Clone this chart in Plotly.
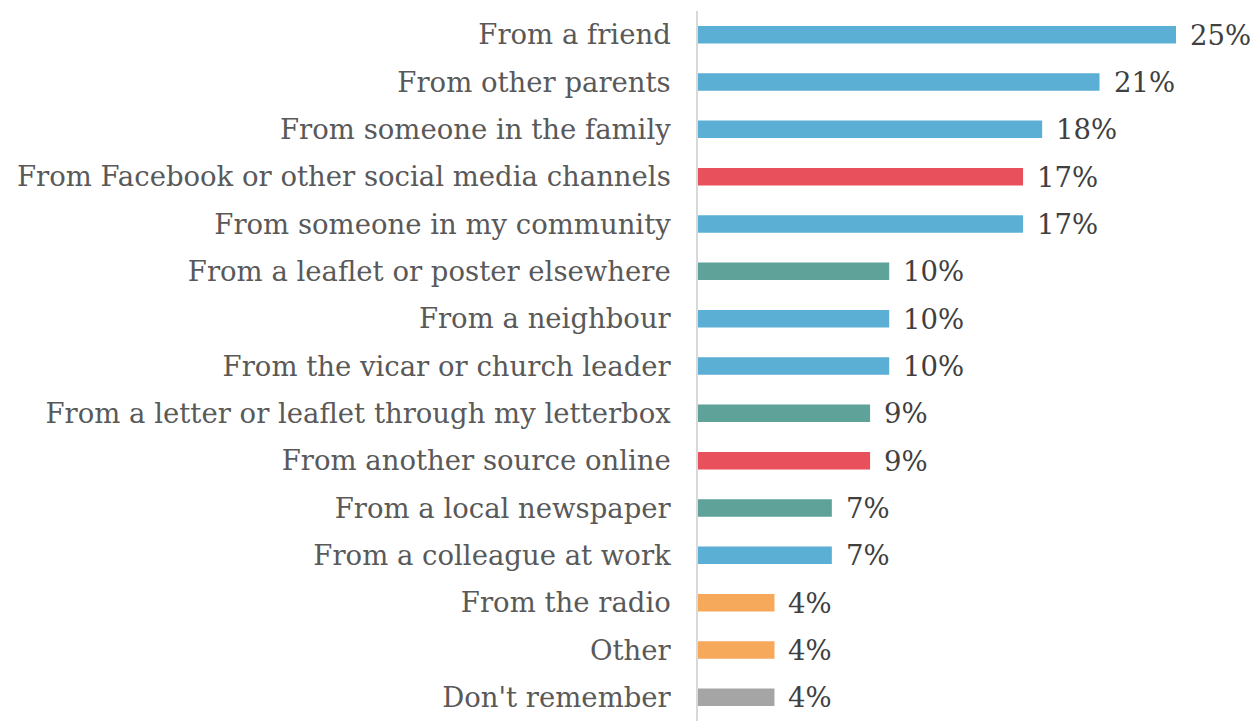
import plotly.graph_objects as go

categories = ["From a friend", "From other parents", "From someone in the family",
              "From Facebook or other social media channels", "From someone in my community",
              "From a leaflet or poster elsewhere", "From a neighbour", "From the vicar or church leader",
              "From a letter or leaflet through my letterbox", "From another source online",
              "From a local newspaper", "From a colleague at work", "From the radio", "Other",
              "Don't remember"]
values = [25, 21, 18, 17, 17, 10, 10, 10, 9, 9, 7, 7, 4, 4, 4]
groups = ["people", "people", "people", "online", "people", "print", "people", "people",
          "print", "online", "print", "people", "broadcast", "broadcast", "unknown"]
group_colors = {"people": "#5BAED4", "online": "#E8515B", "print": "#5FA29A",
                "broadcast": "#F6A95A", "unknown": "#A5A5A5"}
labels = [f"{v}%" for v in values]

FONT = "DejaVu Serif"
fig = go.Figure()
fig.add_trace(go.Bar(
    x=values, y=categories, orientation="h",
    marker=dict(color=[group_colors[g] for g in groups], line=dict(width=0)),
    hoverinfo="skip",
))
for c, v, t in zip(categories, values, labels):
    fig.add_annotation(x=v, y=c, text=t, showarrow=False, xanchor="left", xshift=12,
                       font=dict(family=FONT, size=27.5, color="#404040"))

fig.update_layout(
    width=1256, height=721,
    margin=dict(l=698, r=0, t=11, b=0),
    plot_bgcolor="white", paper_bgcolor="white",
    bargap=0.63, showlegend=False,
    font=dict(family=FONT, size=27.5, color="#595959"),
)
fig.update_xaxes(range=[0, 558 / 19.12], visible=False, showgrid=False)
fig.update_yaxes(autorange="reversed", showgrid=False, showline=True, linecolor="#D9D9D9",
                 linewidth=1.5, ticks="", ticklabelstandoff=20,
                 tickfont=dict(family=FONT, size=27.5, color="#595959"))
fig.write_html("out.html")
